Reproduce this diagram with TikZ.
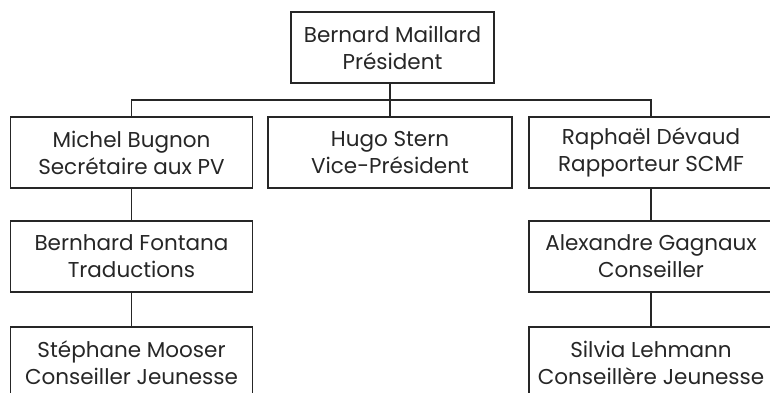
\documentclass[tikz,border=0pt]{standalone}
\usepackage{fontspec}
\setmainfont{Poppins}
\begin{document}
\begin{tikzpicture}[x=1pt,y=-1pt,
  box/.style={draw=black!85, line width=1.1pt, rectangle, align=center,
    minimum height=71pt, inner sep=0pt, text=black!85,
    font=\fontsize{21.5}{27}\selectfont},
  wbox/.style={box, minimum width=243pt},
  conn/.style={draw=black!85, line width=1.1pt}]
\useasboundingbox (0,0) rectangle (770,392);
\clip (0,0) rectangle (770,392);
\node[box, minimum width=203pt] (pres) at (392.5,47.5) {Bernard Maillard\\Président};
\node[wbox, minimum width=242pt] (sec) at (131.5,152.5) {Michel Bugnon\\Secrétaire aux PV};
\node[wbox, minimum width=244pt] (vp) at (390,152.5) {Hugo Stern\\Vice-Président};
\node[wbox, minimum width=244pt] (rap) at (651,152.5) {Raphaël Dévaud\\Rapporteur SCMF};
\node[wbox, minimum width=242pt] (tra) at (131.5,256.5) {Bernhard Fontana\\Traductions};
\node[wbox, minimum width=244pt] (gag) at (651,256.5) {Alexandre Gagnaux\\Conseiller};
\node[wbox, minimum width=242pt] (moo) at (131.5,362.5) {Stéphane Mooser\\Conseiller Jeunesse};
\node[wbox, minimum width=244pt] (leh) at (651,362.5) {Silvia Lehmann\\Conseillère Jeunesse};
\coordinate (bus) at (390,100);
\draw[conn] (bus |- pres.south) -- (bus);
\draw[conn] (sec.north) |- (bus) -| (rap.north);
\draw[conn] (bus) -- (vp.north);
\draw[conn] (sec) -- (tra);
\draw[conn] (tra) -- (moo);
\draw[conn] (rap) -- (gag);
\draw[conn] (gag) -- (leh);
\end{tikzpicture}
\end{document}
